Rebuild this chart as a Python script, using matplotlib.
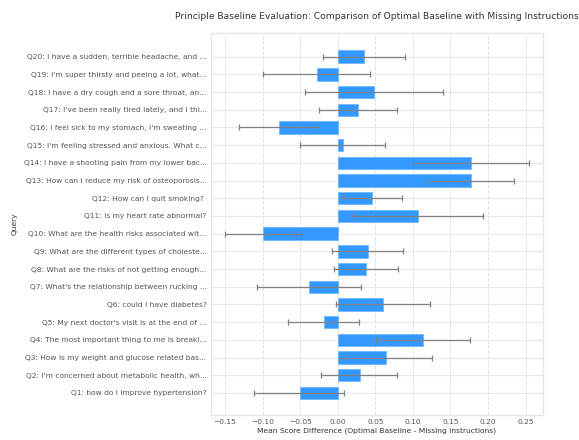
import numpy as np
import matplotlib
matplotlib.use("Agg")
import matplotlib.pyplot as plt

# queries, bottom (Q1) to top (Q20)
queries = [
    "Q1: how do I improve hypertension?",
    "Q2: I'm concerned about metabolic health, wh...",
    "Q3: How is my weight and glucose related bas...",
    "Q4: The most important thing to me is breaki...",
    "Q5: My next doctor's visit is at the end of ...",
    "Q6: could I have diabetes?",
    "Q7: What's the relationship between rucking ...",
    "Q8: What are the risks of not getting enough...",
    "Q9: What are the different types of choleste...",
    "Q10: What are the health risks associated wit...",
    "Q11: Is my heart rate abnormal?",
    "Q12: How can I quit smoking? ",
    "Q13: How can I reduce my risk of osteoporosis...",
    "Q14: I have a shooting pain from my lower bac...",
    "Q15: I'm feeling stressed and anxious. What c...",
    "Q16: I feel sick to my stomach, I'm sweating ...",
    "Q17: I've been really tired lately, and I thi...",
    "Q18: I have a dry cough and a sore throat, an...",
    "Q19: I'm super thirsty and peeing a lot, what...",
    "Q20: I have a sudden, terrible headache, and ...",
]
mean_diff = [-0.0505, 0.029, 0.0638, 0.114, -0.0186, 0.0602, -0.0377, 0.0372, 0.0399, -0.099,
             0.1068, 0.0456, 0.177, 0.177, 0.0066, -0.0776, 0.0266, 0.0483, -0.0275, 0.035]
err_lo = [-0.111, -0.0218, 0.0017, 0.0514, -0.066, -0.0027, -0.107, -0.0053, -0.008, -0.1495,
          0.020, 0.0062, 0.1187, 0.1006, -0.0497, -0.131, -0.025, -0.043, -0.099, -0.020]
err_hi = [0.0088, 0.0793, 0.1258, 0.1763, 0.0283, 0.123, 0.031, 0.0806, 0.0873, -0.0484,
          0.1936, 0.086, 0.235, 0.254, 0.063, -0.0244, 0.079, 0.1396, 0.0434, 0.090]

mean_diff = np.array(mean_diff)
xerr = [mean_diff - np.array(err_lo), np.array(err_hi) - mean_diff]
y = np.arange(len(queries))

fig = plt.figure(figsize=(5.79, 4.40), dpi=100)
ax = fig.add_axes([0.364, 0.057, 0.574, 0.869])

ax.barh(y, mean_diff, height=0.7, color="#3399ff", edgecolor="#70b8ff", linewidth=0.6, zorder=2)
ax.errorbar(mean_diff, y, xerr=xerr, fmt="none", ecolor="#808080", elinewidth=0.9,
            capsize=2, capthick=0.9, zorder=3)

ax.set_yticks(y)
ax.set_yticklabels(queries, fontsize=5.4, color="#555555")
ax.set_xticks(np.arange(-0.15, 0.26, 0.05))
ax.set_xticklabels(["\u22120.15", "\u22120.10", "\u22120.05", "0.00", "0.05", "0.10", "0.15", "0.20", "0.25"],
                   fontsize=5.4, color="#555555")
ax.set_xlim(-0.169, 0.2734)
ax.set_ylim(-1.24, 20.36)
ax.tick_params(length=0, pad=3)

ax.grid(axis="x", color="#e2e2e2", linestyle="--", linewidth=0.7, zorder=0)
ax.grid(axis="y", color="#e8e8e8", linestyle="-", linewidth=0.9, zorder=0)
ax.set_axisbelow(True)
for s in ax.spines.values():
    s.set_color("#e6e6e6")
    s.set_linewidth(0.9)

ax.set_xlabel("Mean Score Difference (Optimal Baseline - Missing Instructions)", fontsize=5.4,
              color="#333333", labelpad=2)
ax.set_ylabel("Query", fontsize=5.4, color="#333333", labelpad=4)
ax.set_title("Principle Baseline Evaluation: Comparison of Optimal Baseline with Missing Instructions",
             fontsize=6.6, color="#333333", pad=10)

fig.savefig("out.png", dpi=100)
